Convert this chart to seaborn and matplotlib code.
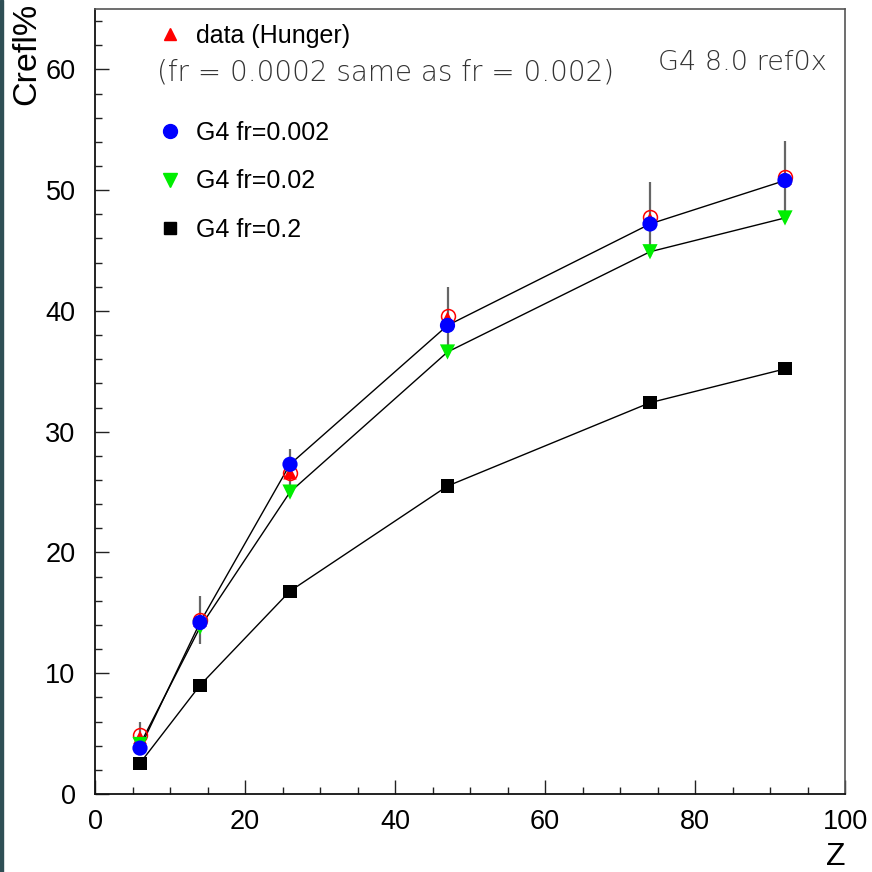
import matplotlib
matplotlib.use("Agg")
import matplotlib.pyplot as plt
from matplotlib.lines import Line2D
from matplotlib.patches import Rectangle
from matplotlib.ticker import MultipleLocator
import seaborn as sns
import pandas as pd

# ---- data ----
Z = [6, 14, 26, 47, 74, 92]
data_hunger = [4.7, 14.4, 26.6, 39.4, 47.6, 51.0]
data_err = [1.3, 2.0, 2.0, 2.6, 3.1, 3.1]
g4_fr00002 = [4.9, 14.4, 26.6, 39.6, 47.8, 51.1]
g4_fr0002 = [3.8, 14.2, 27.3, 38.8, 47.2, 50.8]
g4_fr002 = [4.1, 13.8, 25.0, 36.6, 44.9, 47.7]
g4_fr02 = [2.55, 9.0, 16.8, 25.5, 32.4, 35.2]

sns.set_style("ticks")
plt.rcParams["font.family"] = ["Liberation Sans", "DejaVu Sans"]
plt.rcParams["text.color"] = "black"
plt.rcParams["xtick.labelcolor"] = "black"
plt.rcParams["ytick.labelcolor"] = "black"

fig = plt.figure(figsize=(8.72, 8.72), dpi=100)
W = H = 872
ax = fig.add_axes([95 / W, 1 - 794 / H, 750 / W, 785 / H])

df = pd.DataFrame({
    "Z": Z,
    "data": data_hunger,
    "err": data_err,
    "fr00002": g4_fr00002,
    "fr0002": g4_fr0002,
    "fr002": g4_fr002,
    "fr02": g4_fr02,
})

# error bars of data
ax.errorbar(df["Z"], df["data"], yerr=df["err"], fmt="none",
            ecolor="#666666", elinewidth=1.6, capsize=0, zorder=2)

# connecting lines
for col in ["fr0002", "fr002", "fr02"]:
    sns.lineplot(data=df, x="Z", y=col, color="black", linewidth=1.0,
                 ax=ax, zorder=3, legend=False)

# markers
ax.plot(df["Z"], df["fr00002"], linestyle="none", marker="o", markersize=10,
        markerfacecolor="none", markeredgecolor="red", markeredgewidth=1.1, zorder=4)
sns.scatterplot(data=df, x="Z", y="data", marker="^", s=95, color="red",
                edgecolor="none", ax=ax, zorder=5, legend=False)
sns.scatterplot(data=df, x="Z", y="fr002", marker="v", s=120, color="#00ee00",
                edgecolor="none", ax=ax, zorder=6, legend=False)
sns.scatterplot(data=df, x="Z", y="fr0002", marker="o", s=120, color="blue",
                edgecolor="none", ax=ax, zorder=7, legend=False)
sns.scatterplot(data=df, x="Z", y="fr02", marker="s", s=90, color="black",
                edgecolor="none", ax=ax, zorder=8, legend=False)

# axes style
ax.set_xlim(0, 100)
ax.set_ylim(0, 65)
ax.set_xlabel("")
ax.set_ylabel("")
ax.xaxis.set_major_locator(MultipleLocator(20))
ax.xaxis.set_minor_locator(MultipleLocator(5))
ax.yaxis.set_major_locator(MultipleLocator(10))
ax.yaxis.set_minor_locator(MultipleLocator(2))
ax.tick_params(which="both", direction="in", top=False, right=False,
               color="#222222", width=1.0)
ax.tick_params(which="major", length=10, labelsize=19.5)
ax.tick_params(axis="x", which="major", pad=11)
ax.tick_params(axis="y", which="major", pad=14)
ax.tick_params(which="minor", length=5)
for side in ["left", "bottom"]:
    ax.spines[side].set_color("#111111")
    ax.spines[side].set_linewidth(1.3)
for side in ["top", "right"]:
    ax.spines[side].set_visible(True)
    ax.spines[side].set_color("#555555")
    ax.spines[side].set_linewidth(1.2)

# axis titles
ax.text(-0.0907, 1.0076, "Crefl%", transform=ax.transAxes, rotation=90,
        ha="center", va="top", fontsize=24.5)
fig.text(836 / W, 1 - 857 / H, "Z", ha="center", va="center", fontsize=23)

# legend
handles = [
    Line2D([], [], linestyle="none", marker="^", markersize=9, color="red"),
    Line2D([], [], linestyle="none", marker=""),
    Line2D([], [], linestyle="none", marker="o", markersize=10, color="blue"),
    Line2D([], [], linestyle="none", marker="v", markersize=10, color="#00ee00"),
    Line2D([], [], linestyle="none", marker="s", markersize=9, color="black"),
]
labels = ["data (Hunger)", " ", "G4 fr=0.002", "G4 fr=0.02", "G4 fr=0.2"]
ax.legend(handles, labels, loc="upper left", bbox_to_anchor=(0.084, 0.981),
          frameon=False, fontsize=18, handlelength=0.95, handletextpad=0.55,
          borderpad=0, borderaxespad=0, labelspacing=0.98)

# notes
light = dict(family=["DejaVu Sans"], fontweight="light", color="#333333")
ax.text((157 - 95) / 750, (794 - 73) / 785, "(fr = 0.0002 same as fr = 0.002)",
        transform=ax.transAxes, ha="left", va="center", fontsize=20, **light)
ax.text((827 - 95) / 750, (794 - 62) / 785, "G4 8.0 ref0x",
        transform=ax.transAxes, ha="right", va="center", fontsize=19.5, **light)

# dark strip at the left edge
fig.patches.append(Rectangle((0, 0), 2.5 / W, 1, transform=fig.transFigure,
                             color="#2f4f55", zorder=10))

fig.savefig("out.png", dpi=100)
